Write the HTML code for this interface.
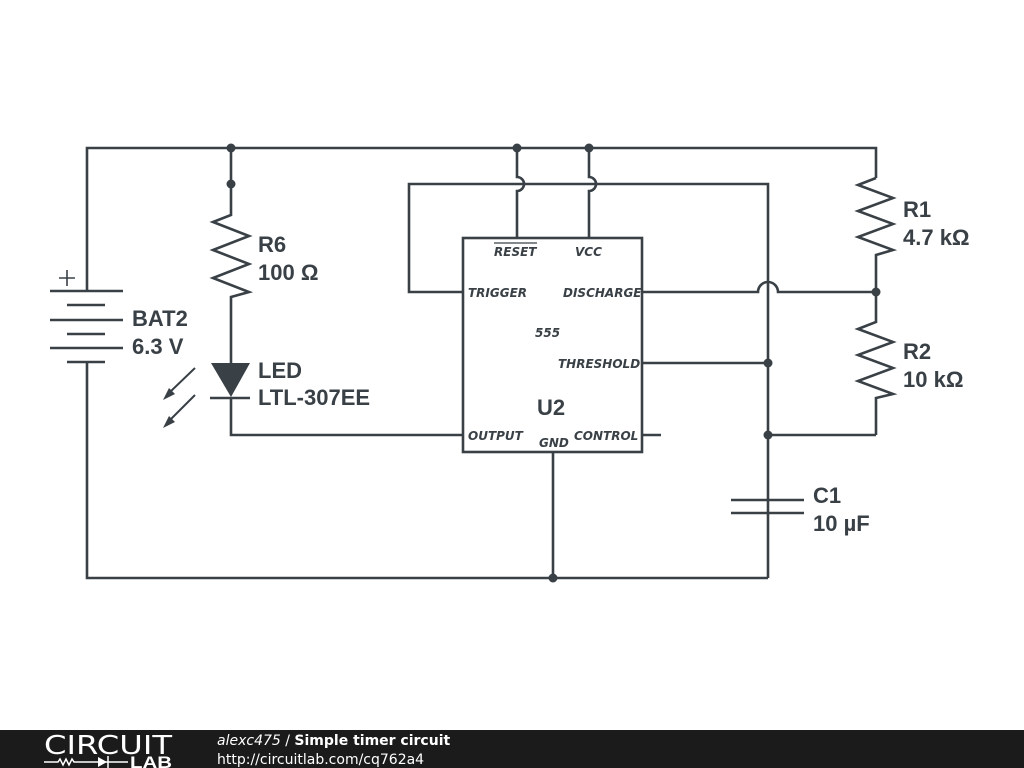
<!DOCTYPE html>
<html><head><meta charset="utf-8"><style>
html,body{margin:0;padding:0;background:#fff;width:1024px;height:768px;overflow:hidden}
svg{position:absolute;left:0;top:0}
.l{font-family:"Liberation Sans",sans-serif;font-weight:bold;font-size:22px;fill:#394046}
.p{font-family:"DejaVu Sans",sans-serif;font-weight:bold;font-style:italic;font-size:12px;fill:#394046}
</style></head><body>
<svg width="1024" height="768" viewBox="0 0 1024 768">
<g stroke="#394046" stroke-width="2.6" fill="none" stroke-linejoin="miter">
<path d="M87 291 V148 H876 V178"/>
<path d="M50 291 H123 M67 305 H105 M50 320 H123 M67 334 H105 M50 348 H123 M67 362 H105"/>
<path d="M87 362 V578 H768"/>
<path d="M67 270 V286 M59 278 H75" stroke-width="1.6"/>
<path d="M231 148 V215 L213 222 L249 236 L213 250 L249 264 L213 278 L249 292 L231 297 V363"/>
<path d="M210 398 H250 M231 398 V435 H463"/>
<path d="M195 368 L170 392 M195 395 L170 420" stroke-width="2"/>
<rect x="463" y="238" width="179" height="214"/>
<path d="M517 148 V177 A7 7 0 0 1 517 191 V238"/>
<path d="M589 148 V177 A7 7 0 0 1 589 191 V238"/>
<path d="M463 292 H409 V184 H768 V578"/>
<path d="M642 292 H758 A10 10 0 0 1 778 292 H876"/>
<path d="M642 363 H768 M642 435 H661 M768 435 H876"/>
<path d="M553 452 V578"/>
<path d="M876 178 L858 185 L893 198 L858 211 L893 224 L858 237 L893 250 L876 255 V322 L858 329 L893 342 L858 355 L893 368 L858 381 L893 394 L876 398 V435"/>
<path d="M731 500 H804 M731 513 H804"/>
</g>
<g fill="#394046">
<polygon points="211,363 250,363 231,397"/>
<polygon points="163,400 175,394 169,388"/>
<polygon points="163,428 175,422 169,416"/>
<circle cx="231" cy="148" r="4.5"/><circle cx="231" cy="184" r="4.5"/>
<circle cx="517" cy="148" r="4.5"/><circle cx="589" cy="148" r="4.5"/>
<circle cx="876" cy="292" r="4.5"/><circle cx="768" cy="363" r="4.5"/>
<circle cx="768" cy="435" r="4.5"/><circle cx="553" cy="578" r="4.5"/>
</g>
<text class="l" x="258" y="252">R6</text><text class="l" x="258" y="280">100 Ω</text>
<text class="l" x="132" y="326">BAT2</text><text class="l" x="132" y="354">6.3 V</text>
<text class="l" x="258" y="378">LED</text><text class="l" x="258" y="405">LTL-307EE</text>
<text class="l" x="903" y="217">R1</text><text class="l" x="903" y="245">4.7 kΩ</text>
<text class="l" x="903" y="359">R2</text><text class="l" x="903" y="387">10 kΩ</text>
<text class="l" x="813" y="503">C1</text><text class="l" x="813" y="531">10 µF</text>
<text class="l" x="537" y="415" font-size="23">U2</text>
<text class="p" x="535" y="337" font-size="17">555</text>
<text class="p" x="494" y="256">RESET</text>
<line x1="494" y1="243" x2="537" y2="243" stroke="#394046" stroke-width="1.2"/>
<text class="p" x="575" y="256">VCC</text>
<text class="p" x="468" y="297">TRIGGER</text>
<text class="p" x="563" y="297">DISCHARGE</text>
<text class="p" x="558" y="368">THRESHOLD</text>
<text class="p" x="468" y="440">OUTPUT</text>
<text class="p" x="539" y="447">GND</text>
<text class="p" x="574" y="440">CONTROL</text>
<rect x="0" y="730" width="1024" height="38" fill="#1b1b1b"/>
<text x="44" y="754" font-family="DejaVu Sans,sans-serif" font-size="26" fill="#fff" textLength="128" lengthAdjust="spacingAndGlyphs">CIRCUIT</text>
<path d="M44 762 H58 l2 -3 l3 6 l3 -6 l3 6 l3 -6 l2 3 H98 M98 762 H128" stroke="#fff" stroke-width="1.5" fill="none"/>
<polygon points="98,757 98,767 107,762" fill="#fff"/><line x1="108" y1="756" x2="108" y2="768" stroke="#fff" stroke-width="1.5"/>
<text x="130" y="768" font-family="Liberation Sans,sans-serif" font-weight="bold" font-size="17" fill="#fff" textLength="42" lengthAdjust="spacingAndGlyphs">LAB</text>
<text x="217" y="745" font-family="DejaVu Sans,sans-serif" font-size="14" fill="#fff"><tspan font-style="italic">alexc475</tspan> / <tspan font-weight="bold">Simple timer circuit</tspan></text>
<text x="217" y="764" font-family="DejaVu Sans,sans-serif" font-size="14" fill="#fff">http://circuitlab.com/cq762a4</text>
</svg>
</body></html>
